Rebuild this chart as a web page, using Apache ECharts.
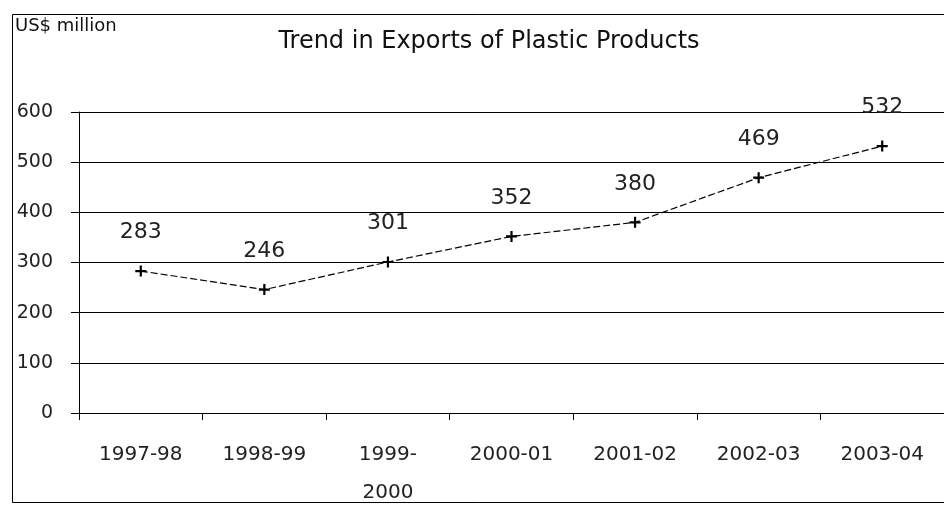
<!DOCTYPE html>
<html>
<head>
<meta charset="utf-8">
<script src="https://cdn.jsdelivr.net/npm/echarts@6/dist/echarts.min.js"></script>
<style>
  html, body { margin: 0; padding: 0; background: #fff; }
  #chart { width: 944px; height: 505px; }
</style>
</head>
<body>
<div id="chart"></div>
<script>
// exports of plastic products, US$ million
const years = ['1997-98', '1998-99', '1999-2000', '2000-01', '2001-02', '2002-03', '2003-04']
const exportsUsd = [283, 246, 301, 352, 380, 469, 532]
const yTicks = [0, 100, 200, 300, 400, 500, 600]

// scanned excel chart, wide glyphs -> DejaVu fits best
const font = '"DejaVu Sans", "Liberation Sans", Arial, sans-serif'
const chart = echarts.init(document.getElementById('chart'))

chart.setOption({
  animation: false,
  textStyle: { fontFamily: font },
  title: {
    text: 'Trend in Exports of Plastic Products',
    left: 484,
    textAlign: 'center',
    top: 25,
    textStyle: { fontSize: 24, fontWeight: 'normal', color: '#111', fontFamily: font }
  },
  graphic: [
    {
      type: 'rect',
      shape: { x: 12.5, y: 14.5, width: 940, height: 488 },
      style: { fill: 'none', stroke: '#000', lineWidth: 1 },
      silent: true
    },
    {
      type: 'text',
      left: 15,
      top: 17,
      style: { text: 'US$ million', fontSize: 18, fill: '#111', fontFamily: font }
    }
  ],
  // keep the plot where it is, labels may run to the edge
  grid: { left: 79, right: 0, top: 112, bottom: 92, outerBoundsMode: 'none', containLabel: false },
  xAxis: {
    type: 'category',
    data: years,
    axisLine: { lineStyle: { color: '#000', width: 1 } },
    axisTick: { show: true, length: 7, lineStyle: { color: '#000' } },
    axisLabel: {
      color: '#222',
      fontSize: 20,
      margin: 23,
      lineHeight: 38,
      interval: 0,
      formatter: (v) => v === '1999-2000' ? '1999-\n2000' : v
    }
  },
  yAxis: {
    type: 'value',
    min: yTicks[0],
    max: yTicks[yTicks.length - 1],
    interval: 100,
    axisLine: { show: true, lineStyle: { color: '#000', width: 1 } },
    axisTick: { show: true, length: 8, lineStyle: { color: '#000' } },
    axisLabel: { color: '#222', fontSize: 19, margin: 26 },
    splitLine: { show: true, lineStyle: { color: '#000', width: 1.2 } }
  },
  series: [
    {
      type: 'line',
      data: exportsUsd,
      symbol: 'path://M4,0h2v4h4v2h-4v4h-2v-4h-4v-2h4z',
      symbolSize: 11,
      itemStyle: { color: '#000' },
      lineStyle: { color: '#000', width: 1.2, type: [7, 3] },
      label: {
        show: true,
        position: 'top',
        distance: 22,
        fontSize: 22,
        color: '#222'
      }
    }
  ]
})
</script>
</body>
</html>
